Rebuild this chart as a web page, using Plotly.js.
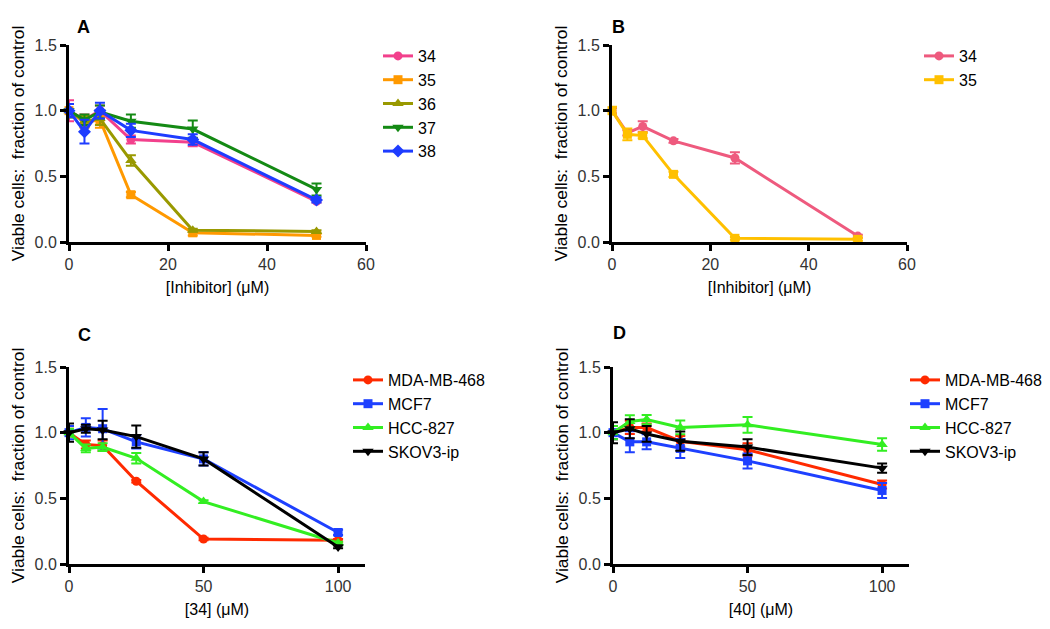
<!DOCTYPE html>
<html>
<head>
<meta charset="utf-8">
<script src="https://cdn.plot.ly/plotly-3.0.1.min.js"></script>
<style>html,body{margin:0;padding:0;background:#fff;}#chart{width:1050px;height:629px;}</style>
</head>
<body>
<div id="chart"></div>
<script>
// ---- Data ----
const concAB = [0, 3.125, 6.25, 12.5, 25, 50];
const concCD = [0, 6.25, 12.5, 25, 50, 100];

const seriesA = ["34", "35", "36", "37", "38"];
const a34 = [1.00, 0.93, 1.00, 0.78, 0.76, 0.31];
const a35 = [1.00, 0.91, 0.93, 0.36, 0.07, 0.05];
const a36 = [1.00, 0.92, 0.94, 0.62, 0.09, 0.08];
const a37 = [1.00, 0.93, 0.99, 0.92, 0.86, 0.40];
const a38 = [1.00, 0.84, 1.00, 0.85, 0.78, 0.32];
const a34err = [0.08, 0.04, 0.04, 0.03, 0.03, 0.01];
const a35err = [0.05, 0.04, 0.06, 0.02, 0.02, 0.01];
const a36err = [0.05, 0.04, 0.05, 0.04, 0.01, 0.01];
const a37err = [0.05, 0.04, 0.05, 0.05, 0.066, 0.045];
const a38err = [0.05, 0.09, 0.06, 0.05, 0.04, 0.02];

const seriesB = ["34", "35"];
const b34 = [1.00, 0.83, 0.88, 0.77, 0.64, 0.045];
const b35 = [1.00, 0.82, 0.81, 0.515, 0.028, 0.02];
const b34err = [0.02, 0.02, 0.04, 0.015, 0.043, 0.01];
const b35err = [0.03, 0.045, 0.02, 0.02, 0.01, 0.01];

const cellLines = ["MDA-MB-468", "MCF7", "HCC-827", "SKOV3-ip"];
const cMDA = [1.00, 0.91, 0.90, 0.63, 0.19, 0.18];
const cMCF = [1.00, 1.04, 1.03, 0.93, 0.80, 0.24];
const cHCC = [1.00, 0.88, 0.89, 0.805, 0.475, 0.16];
const cSKO = [1.00, 1.03, 1.02, 0.97, 0.80, 0.13];
const cMDAerr = [0.03, 0.03, 0.04, 0.01, 0.01, 0.01];
const cMCFerr = [0.05, 0.07, 0.15, 0.05, 0.05, 0.02];
const cHCCerr = [0.03, 0.03, 0.03, 0.04, 0.01, 0.01];
const cSKOerr = [0.07, 0.03, 0.07, 0.085, 0.05, 0.01];

const dMDA = [1.00, 1.04, 1.04, 0.935, 0.87, 0.605];
const dMCF = [1.00, 0.93, 0.93, 0.88, 0.785, 0.56];
const dHCC = [1.00, 1.085, 1.10, 1.04, 1.06, 0.91];
const dSKO = [1.00, 1.03, 0.99, 0.935, 0.89, 0.73];
const dMDAerr = [0.05, 0.05, 0.03, 0.04, 0.05, 0.03];
const dMCFerr = [0.05, 0.08, 0.057, 0.072, 0.057, 0.057];
const dHCCerr = [0.05, 0.048, 0.035, 0.052, 0.06, 0.047];
const dSKOerr = [0.08, 0.072, 0.06, 0.073, 0.06, 0.035];

const yTicks = [0, 0.5, 1.0, 1.5];
const xTicksAB = [0, 20, 40, 60];
const xTicksCD = [0, 50, 100];

// ---- Styling ----
const W = 1050, H = 629;
const px = v => v / W;
const py = v => 1 - v / H;

function tr(x, y, err, name, color, symbol, size, xa, ya, leg) {
  return {
    x: x, y: y, name: name, type: 'scatter', mode: 'lines+markers',
    xaxis: xa, yaxis: ya, legend: leg, cliponaxis: false,
    line: {color: color, width: 3},
    marker: {color: color, symbol: symbol, size: size},
    error_y: {type: 'data', array: err, visible: true, color: color, thickness: 2, width: 5}
  };
}

const cA = ['#F2408C', '#FF9900', '#999900', '#148A14', '#1E3CFF'];
const cB = ['#EE5A7E', '#FFC000'];
const cC = ['#FF2A00', '#1E40FF', '#33EE22', '#000000'];

const data = [
  tr(concAB, a34, a34err, seriesA[0], cA[0], 'circle', 9, 'x', 'y', 'legend'),
  tr(concAB, a35, a35err, seriesA[1], cA[1], 'square', 9, 'x', 'y', 'legend'),
  tr(concAB, a36, a36err, seriesA[2], cA[2], 'triangle-up', 10, 'x', 'y', 'legend'),
  tr(concAB, a37, a37err, seriesA[3], cA[3], 'triangle-down', 10, 'x', 'y', 'legend'),
  tr(concAB, a38, a38err, seriesA[4], cA[4], 'diamond', 10, 'x', 'y', 'legend'),

  tr(concAB, b34, b34err, seriesB[0], cB[0], 'circle', 9, 'x2', 'y2', 'legend2'),
  tr(concAB, b35, b35err, seriesB[1], cB[1], 'square', 9, 'x2', 'y2', 'legend2'),

  tr(concCD, cMDA, cMDAerr, cellLines[0], cC[0], 'circle', 9, 'x3', 'y3', 'legend3'),
  tr(concCD, cMCF, cMCFerr, cellLines[1], cC[1], 'square', 9, 'x3', 'y3', 'legend3'),
  tr(concCD, cHCC, cHCCerr, cellLines[2], cC[2], 'triangle-up', 10, 'x3', 'y3', 'legend3'),
  tr(concCD, cSKO, cSKOerr, cellLines[3], cC[3], 'triangle-down', 10, 'x3', 'y3', 'legend3'),

  tr(concCD, dMDA, dMDAerr, cellLines[0], cC[0], 'circle', 9, 'x4', 'y4', 'legend4'),
  tr(concCD, dMCF, dMCFerr, cellLines[1], cC[1], 'square', 9, 'x4', 'y4', 'legend4'),
  tr(concCD, dHCC, dHCCerr, cellLines[2], cC[2], 'triangle-up', 10, 'x4', 'y4', 'legend4'),
  tr(concCD, dSKO, dSKOerr, cellLines[3], cC[3], 'triangle-down', 10, 'x4', 'y4', 'legend4')
];

const FONT = 'Liberation Sans, Arial, sans-serif';
function xax(domain, range, ticks, title, anchor) {
  return {
    domain: domain, range: range, anchor: anchor, tickvals: ticks,
    showline: true, linewidth: 3, linecolor: '#000', mirror: false,
    ticks: 'outside', ticklen: 6, tickwidth: 3, tickcolor: '#000',
    showgrid: false, zeroline: false, fixedrange: true,
    tickfont: {family: FONT, size: 16, color: '#333'},
    title: {text: title, font: {family: FONT, size: 16, color: '#000'}, standoff: 10}
  };
}
function yax(domain, anchor) {
  return {
    domain: domain, range: [0, 1.5], anchor: anchor, tickvals: yTicks, tickformat: '.1f',
    showline: true, linewidth: 3, linecolor: '#000',
    ticks: 'outside', ticklen: 6, tickwidth: 3, tickcolor: '#000',
    showgrid: false, zeroline: false, fixedrange: true,
    tickfont: {family: FONT, size: 16, color: '#333'},
    title: {text: 'Viable cells:  fraction of control', font: {family: FONT, size: 17.4, color: '#000'}, standoff: 6}
  };
}
function leg(x, ytop) {
  return {x: px(x), y: py(ytop), xanchor: 'left', yanchor: 'top', bgcolor: 'rgba(0,0,0,0)',
    font: {family: FONT, size: 16, color: '#000'}, tracegroupgap: 0};
}

const yTopDom = [py(242), py(45)];
const yBotDom = [py(564), py(367)];
const mu = '\u03bcM';

const layout = {
  width: W, height: H,
  margin: {l: 0, r: 0, t: 0, b: 0},
  paper_bgcolor: '#fff', plot_bgcolor: '#fff',
  font: {family: FONT},
  xaxis: xax([px(69), px(366)], [0, 60], xTicksAB, '[Inhibitor] (' + mu + ')', 'y'),
  yaxis: yax(yTopDom, 'x'),
  xaxis2: xax([px(612), px(907)], [0, 60], xTicksAB, '[Inhibitor] (' + mu + ')', 'y2'),
  yaxis2: yax(yTopDom, 'x2'),
  xaxis3: xax([px(69), px(365)], [0, 110], xTicksCD, '[34] (' + mu + ')', 'y3'),
  yaxis3: yax(yBotDom, 'x3'),
  xaxis4: xax([px(613), px(909)], [0, 110], xTicksCD, '[40] (' + mu + ')', 'y4'),
  yaxis4: yax(yBotDom, 'x4'),
  legend: leg(378, 39),
  legend2: leg(919, 39),
  legend3: leg(348, 363),
  legend4: leg(905, 363),
  showlegend: true,
  annotations: [
    {text: '<b>A</b>', x: px(75), y: py(15), xref: 'paper', yref: 'paper', showarrow: false, font: {family: FONT, size: 18, color: '#000'}},
    {text: '<b>B</b>', x: px(618), y: py(15), xref: 'paper', yref: 'paper', showarrow: false, font: {family: FONT, size: 18, color: '#000'}},
    {text: '<b>C</b>', x: px(76), y: py(335), xref: 'paper', yref: 'paper', showarrow: false, font: {family: FONT, size: 18, color: '#000'}},
    {text: '<b>D</b>', x: px(619), y: py(333), xref: 'paper', yref: 'paper', showarrow: false, font: {family: FONT, size: 18, color: '#000'}}
  ]
};

Plotly.newPlot('chart', data, layout, {displayModeBar: false, staticPlot: true});
</script>
</body>
</html>
